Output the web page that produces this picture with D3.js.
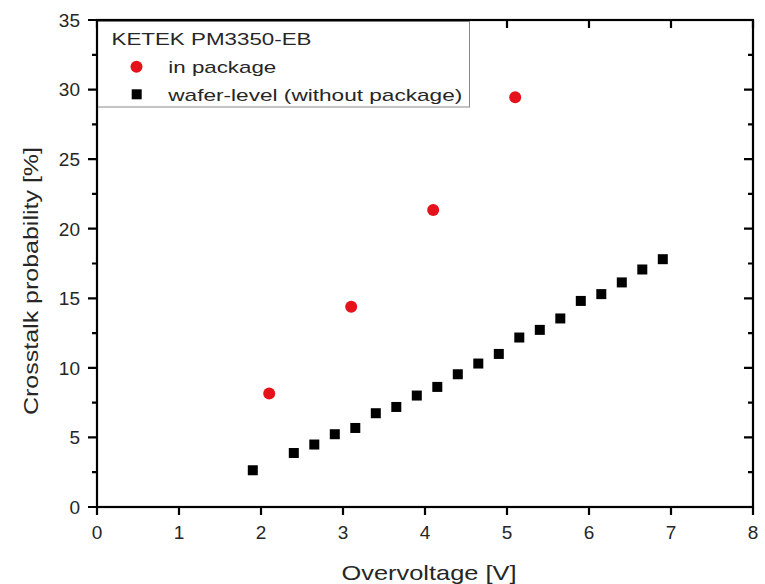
<!DOCTYPE html>
<html>
<head>
<meta charset="utf-8">
<script src="https://cdn.jsdelivr.net/npm/d3@7"></script>
<style>
  html, body { margin: 0; padding: 0; background: #fff; }
  svg { display: block; font-family: Arial, "Liberation Sans", sans-serif; }
</style>
</head>
<body>
<svg id="chart" width="765" height="584"></svg>
<script>
// Crosstalk probability vs. overvoltage, KETEK PM3350-EB
const packageVoltage = [2.1, 3.1, 4.1, 5.1];
const packageCrosstalk = [8.15, 14.4, 21.35, 29.45];

const waferVoltage = [1.9, 2.4, 2.65, 2.9, 3.15, 3.4, 3.65, 3.9, 4.15, 4.4,
                      4.65, 4.9, 5.15, 5.4, 5.65, 5.9, 6.15, 6.4, 6.65, 6.9];
const waferCrosstalk = [2.64, 3.88, 4.49, 5.23, 5.68, 6.74, 7.19, 8.01, 8.63, 9.54,
                        10.31, 11.0, 12.18, 12.73, 13.55, 14.81, 15.3, 16.14, 17.07, 17.81];

const xTicks = [0, 1, 2, 3, 4, 5, 6, 7, 8];
const yTicks = [0, 5, 10, 15, 20, 25, 30, 35];
const yMinorTicks = [2.5, 7.5, 12.5, 17.5, 22.5, 27.5, 32.5];

const legendTitle = "KETEK PM3350-EB";
const seriesNames = ["in package", "wafer-level (without package)"];

const chart = d3.select("#chart");
const plotLeft = 97, plotRight = 753, plotTop = 20, plotBottom = 507;

const xScale = d3.scaleLinear().domain([0, 8]).range([plotLeft, plotRight]);
const yScale = d3.scaleLinear().domain([0, 35]).range([plotBottom, plotTop]);

const red = "#e5121b";
const ink = "#000";
const textColor = "#262626";

// tick marks: bottom (outward), top (inward), left (outward), right (inward)
const tickPath = d3.path();
xTicks.forEach(v => {
  tickPath.moveTo(xScale(v), plotBottom); tickPath.lineTo(xScale(v), plotBottom + 8);
  tickPath.moveTo(xScale(v), plotTop);    tickPath.lineTo(xScale(v), plotTop + 8);
});
yTicks.forEach(v => {
  tickPath.moveTo(plotLeft - 9, yScale(v));  tickPath.lineTo(plotLeft, yScale(v));
  tickPath.moveTo(plotRight - 9, yScale(v)); tickPath.lineTo(plotRight, yScale(v));
});
yMinorTicks.forEach(v => {
  tickPath.moveTo(plotLeft - 5, yScale(v));  tickPath.lineTo(plotLeft, yScale(v));
  tickPath.moveTo(plotRight - 5, yScale(v)); tickPath.lineTo(plotRight, yScale(v));
});
chart.append("path")
  .attr("d", tickPath.toString())
  .attr("fill", "none").attr("stroke", ink).attr("stroke-width", 2.2);

// tick labels
chart.append("g").selectAll("text").data(xTicks).join("text")
  .attr("x", d => xScale(d)).attr("y", 539)
  .attr("text-anchor", "middle")
  .attr("font-size", 19).attr("fill", textColor)
  .text(d => d3.format("d")(d));

chart.append("g").selectAll("text").data(yTicks).join("text")
  .attr("x", 80).attr("y", d => yScale(d))
  .attr("dy", "0.36em")
  .attr("text-anchor", "end")
  .attr("font-size", 19).attr("fill", textColor)
  .text(d => d3.format("d")(d));

// axis titles
chart.append("text")
  .attr("x", 429).attr("y", 580)
  .attr("text-anchor", "middle")
  .attr("font-size", 21).attr("fill", textColor)
  .attr("textLength", 175).attr("lengthAdjust", "spacingAndGlyphs")
  .text("Overvoltage [V]");

chart.append("text")
  .attr("transform", "translate(38,281) rotate(-90)")
  .attr("text-anchor", "middle")
  .attr("font-size", 21).attr("fill", textColor)
  .attr("textLength", 268).attr("lengthAdjust", "spacingAndGlyphs")
  .text("Crosstalk probability [%]");

// data points
chart.append("g").selectAll("rect")
  .data(d3.zip(waferVoltage, waferCrosstalk))
  .join("rect")
  .attr("x", d => xScale(d[0]) - 5).attr("y", d => yScale(d[1]) - 5)
  .attr("width", 10).attr("height", 10)
  .attr("fill", "#000");

chart.append("g").selectAll("circle")
  .data(d3.zip(packageVoltage, packageCrosstalk))
  .join("circle")
  .attr("cx", d => xScale(d[0])).attr("cy", d => yScale(d[1]))
  .attr("r", 6)
  .attr("fill", red);

// legend
const lg = chart.append("g");
lg.append("rect")
  .attr("x", 97.5).attr("y", 21.5).attr("width", 372).attr("height", 85.5)
  .attr("fill", "#fff").attr("stroke", "#8a8a8a").attr("stroke-width", 1);

lg.append("text")
  .attr("x", 111.5).attr("y", 45)
  .attr("font-size", 17).attr("fill", textColor)
  .attr("textLength", 200).attr("lengthAdjust", "spacingAndGlyphs")
  .text(legendTitle);

lg.append("circle").attr("cx", 136.5).attr("cy", 66.7).attr("r", 6).attr("fill", red);
lg.append("text")
  .attr("x", 168.3).attr("y", 73.3)
  .attr("font-size", 17).attr("fill", textColor)
  .attr("textLength", 108).attr("lengthAdjust", "spacingAndGlyphs")
  .text(seriesNames[0]);

lg.append("rect").attr("x", 131.7).attr("y", 89.3).attr("width", 10).attr("height", 10).attr("fill", "#000");
lg.append("text")
  .attr("x", 168.3).attr("y", 100.7)
  .attr("font-size", 17).attr("fill", textColor)
  .attr("textLength", 294).attr("lengthAdjust", "spacingAndGlyphs")
  .text(seriesNames[1]);

// plot frame, drawn last so the legend box sits inside it
chart.append("rect")
  .attr("x", plotLeft).attr("y", plotTop)
  .attr("width", plotRight - plotLeft).attr("height", plotBottom - plotTop)
  .attr("fill", "none").attr("stroke", ink).attr("stroke-width", 2.2);
</script>
</body>
</html>
